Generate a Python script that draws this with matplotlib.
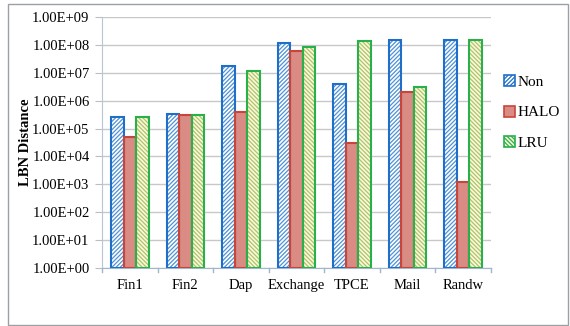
import numpy as np
import matplotlib
matplotlib.use("Agg")
import matplotlib.pyplot as plt
import matplotlib.patches as mpatches

plt.rcParams['font.family'] = ['Liberation Serif', 'DejaVu Serif']
plt.rcParams['hatch.linewidth'] = 0.9

# LBN distance per trace for each cache policy
traces = ['Fin1', 'Fin2', 'Dap', 'Exchange', 'TPCE', 'Mail', 'Randw']
non_vals = [2.6e5, 3.2e5, 1.7e7, 1.15e8, 4.0e6, 1.5e8, 1.5e8]
halo_vals = [4.9e4, 3.1e5, 3.9e5, 6.0e7, 3.0e4, 2.0e6, 1.2e3]
lru_vals = [2.5e5, 3.1e5, 1.15e7, 8.5e7, 1.4e8, 3.1e6, 1.5e8]

fig = plt.figure(figsize=(5.70, 3.26), dpi=100)
fig.patch.set_facecolor('white')

# outer frame around the whole chart
fig.patches.append(mpatches.Rectangle((8 / 570, 1 / 326), 560 / 570, 321 / 326,
                                      transform=fig.transFigure, fill=False,
                                      edgecolor='#9aa0a6', linewidth=1.0))

ax = fig.add_axes([0.179, 0.178, 0.682, 0.770])

x = np.arange(len(traces))
w = 0.225
series = [
    ('Non', non_vals, -w, 'white', '#4f92d6', '/' * 8, '#1f6fc8'),
    ('HALO', halo_vals, 0.0, '#d98b84', '#d98b84', None, '#c9453a'),
    ('LRU', lru_vals, w, '#fbf8dc', '#aec46a', '\\' * 8, '#28b04a'),
]

handles = []
for name, vals, off, face, hcol, hatch, edge in series:
    ax.bar(x + off, vals, w, bottom=1, color=face, edgecolor=hcol,
           hatch=hatch, linewidth=0, zorder=3)
    ax.bar(x + off, vals, w, bottom=1, fill=False, edgecolor=edge,
           linewidth=1.5, zorder=4)
    handles.append(mpatches.Patch(facecolor=face, edgecolor=edge,
                                  hatch=hatch, linewidth=1.2, label=name))

ax.set_yscale('log')
ax.set_ylim(1, 1e9)
ax.set_xlim(-0.5, len(traces) - 0.5)
ax.set_yticks([10.0 ** k for k in range(10)])
ax.set_yticklabels(['1.00E+%02d' % k for k in range(10)], fontsize=10.5)
ax.yaxis.set_minor_locator(matplotlib.ticker.NullLocator())
ax.set_xticks(x)
ax.set_xticklabels(traces, fontsize=10.5)
ax.tick_params(axis='x', length=0, pad=8)
ax.tick_params(axis='y', length=5, color='#b8bec6', pad=4)

# group separators along the x axis
for b in np.arange(-0.5, len(traces), 1.0):
    ax.plot([b, b], [0, -0.015], transform=ax.get_xaxis_transform(),
            color='#9fb6cc', linewidth=1, clip_on=False)

ax.grid(axis='y', color='#c8c8c8', linewidth=1, zorder=0)
ax.set_axisbelow(True)
for s in ['top', 'right']:
    ax.spines[s].set_visible(False)
ax.spines['left'].set_color('#b8c6d4')
ax.spines['bottom'].set_color('#9fb6cc')

ax.set_ylabel('LBN Distance', fontsize=10.5, fontweight='bold', labelpad=0)

fig.legend(handles=handles, loc='center left', bbox_to_anchor=(0.86, 0.655),
           frameon=False, fontsize=11, handlelength=0.75, handleheight=0.75,
           handletextpad=0.15, labelspacing=1.1)

fig.savefig('out.png', dpi=100)
